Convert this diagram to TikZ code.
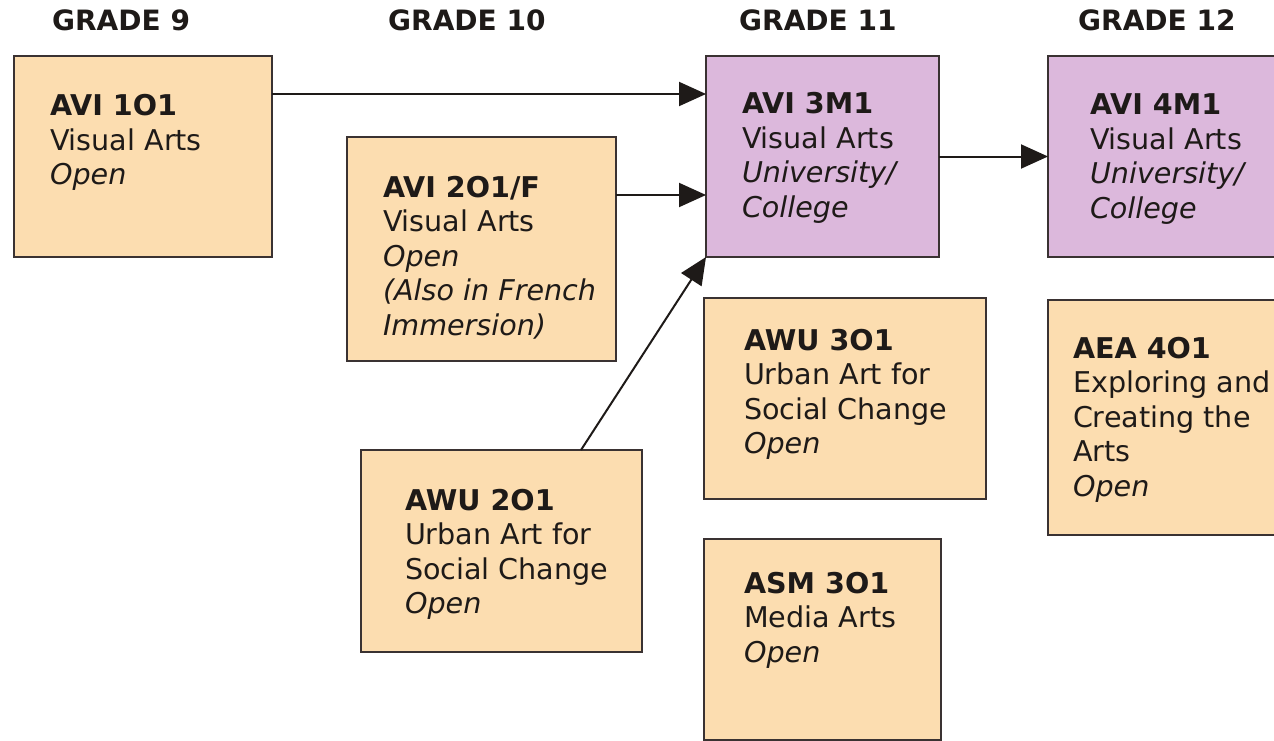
\documentclass[tikz,border=0pt]{standalone}
\usepackage{fontspec}
\setmainfont{DejaVu Sans}
\usetikzlibrary{arrows.meta}
\definecolor{peach}{HTML}{FCDDB0}
\definecolor{lilac}{HTML}{DCB8DC}
\definecolor{edge}{HTML}{3A3232}
\definecolor{ink}{HTML}{1E1A18}
\newcommand{\courselines}[1]{\vtop{\baselineskip=34.5pt\lineskiplimit=-10pt #1}}
\tikzset{
  box/.style={draw=edge, line width=2pt, anchor=north west, inner sep=0pt, outer sep=0pt},
  peachbox/.style={box, fill=peach},
  lilacbox/.style={box, fill=lilac},
  txt/.style={anchor=base west, inner sep=0pt, outer sep=0pt, text=ink, align=left,
    font=\fontsize{28.6}{34.5}\selectfont},
  head/.style={anchor=base west, inner sep=0pt, text=ink, font=\fontsize{28}{34.5}\selectfont\bfseries},
  arr/.style={draw=ink, line width=2pt, -{Triangle[length=27pt,width=24pt]}}
}
\begin{document}
\begin{tikzpicture}[x=1pt,y=-1pt]
\useasboundingbox (0,0) rectangle (1274,741);
\clip (0,0) rectangle (1274,741);
% headers
\node[head] (h9) at (52,31) {GRADE 9};
\node[head] (h10) at (388,31) {GRADE 10};
\node[head] (h11) at (739,31) {GRADE 11};
\node[head] (h12) at (1078,31) {GRADE 12};
% boxes
\node[peachbox, minimum width=258pt, minimum height=201pt] (b1) at (14,56) {};
\node[peachbox, minimum width=269pt, minimum height=224pt] (b2) at (347,137) {};
\node[peachbox, minimum width=281pt, minimum height=202pt] (b4) at (361,450) {};
\node[lilacbox, minimum width=233pt, minimum height=201pt] (b3) at (706,56) {};
\node[peachbox, minimum width=282pt, minimum height=201pt] (b6) at (704,298) {};
\node[peachbox, minimum width=237pt, minimum height=201pt] (b7) at (704,539) {};
\node[lilacbox, minimum width=260pt, minimum height=201pt] (b5) at (1048,56) {};
\node[peachbox, minimum width=260pt, minimum height=235pt] (b8) at (1048,300) {};
% texts
\node[txt] (t1) at (50,116) {\courselines{\hbox{\bfseries AVI 1O1}\hbox{Visual Arts}\hbox{\itshape Open}}};
\node[txt] (t2) at (383,197) {\courselines{\hbox{\bfseries AVI 2O1/F}\hbox{Visual Arts}\hbox{\itshape Open}\hbox{\itshape (Also in French}\hbox{\itshape Immersion)}}};
\node[txt] (t4) at (405,510) {\courselines{\hbox{\bfseries AWU 2O1}\hbox{Urban Art for}\hbox{Social Change}\hbox{\itshape Open}}};
\node[txt] (t3) at (742,114) {\courselines{\hbox{\bfseries AVI 3M1}\hbox{Visual Arts}\hbox{\itshape University/}\hbox{\itshape College}}};
\node[txt] (t6) at (744,350) {\courselines{\hbox{\bfseries AWU 3O1}\hbox{Urban Art for}\hbox{Social Change}\hbox{\itshape Open}}};
\node[txt] (t7) at (744,593) {\courselines{\hbox{\bfseries ASM 3O1}\hbox{Media Arts}\hbox{\itshape Open}}};
\node[txt] (t5) at (1090,115) {\courselines{\hbox{\bfseries AVI 4M1}\hbox{Visual Arts}\hbox{\itshape University/}\hbox{\itshape College}}};
\node[txt] (t8) at (1073,358) {\courselines{\hbox{\bfseries AEA 4O1}\hbox{Exploring and}\hbox{Creating the}\hbox{Arts}\hbox{\itshape Open}}};
% connectors
\draw[arr] ([yshift=-38pt]b1.north east) -- ([yshift=-38pt]b3.north west);
\draw[arr] ([yshift=-58pt]b2.north east) -- ([yshift=-139pt]b3.north west);
\draw[arr] ([xshift=220pt]b4.north west) -- (b3.south west);
\draw[arr] (b3.east) -- (b3.east -| b5.west);
\end{tikzpicture}
\end{document}
